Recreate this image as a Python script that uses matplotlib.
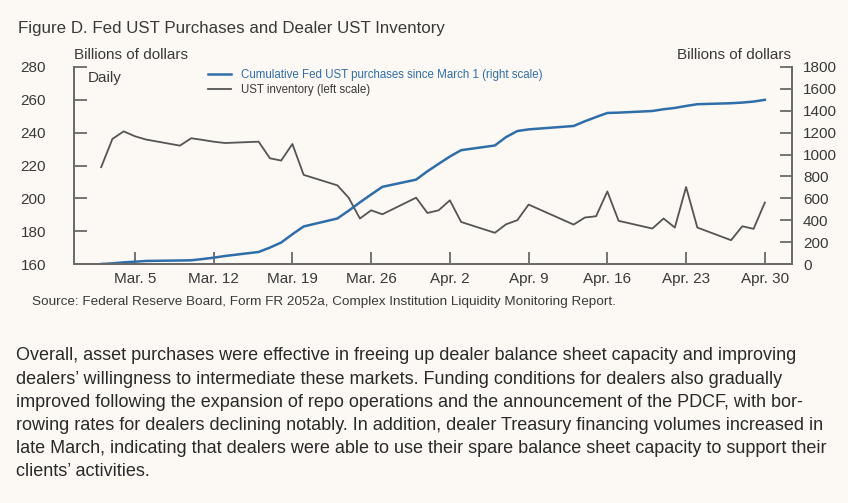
import pandas as pd
import matplotlib.pyplot as plt

plt.rcParams['font.family'] = ['Liberation Sans', 'DejaVu Sans']

# business days, Mar 2 - Apr 30 2020 (Good Friday left out)
dates = ["2020-03-02", "2020-03-03", "2020-03-04", "2020-03-05", "2020-03-06",
         "2020-03-09", "2020-03-10", "2020-03-11", "2020-03-12", "2020-03-13",
         "2020-03-16", "2020-03-17", "2020-03-18", "2020-03-19", "2020-03-20",
         "2020-03-23", "2020-03-24", "2020-03-25", "2020-03-26", "2020-03-27",
         "2020-03-30", "2020-03-31", "2020-04-01", "2020-04-02", "2020-04-03",
         "2020-04-06", "2020-04-07", "2020-04-08", "2020-04-09",
         "2020-04-13", "2020-04-14", "2020-04-15", "2020-04-16", "2020-04-17",
         "2020-04-20", "2020-04-21", "2020-04-22", "2020-04-23", "2020-04-24",
         "2020-04-27", "2020-04-28", "2020-04-29", "2020-04-30"]

# UST inventory, left scale
inventory = [219.0, 236.2, 240.8, 237.8, 235.8,
             232.1, 236.6, 235.6, 234.5, 233.7,
             234.5, 224.4, 223.0, 233.1, 214.3,
             207.9, 200.4, 187.7, 192.7, 190.3,
             200.4, 191.1, 192.7, 198.8, 185.6,
             179.0, 184.2, 186.7, 196.2,
             184.0, 188.3, 189.1, 204.2, 186.3,
             181.6, 187.7, 182.2, 206.9, 182.2,
             174.5, 183.0, 181.4, 197.4]

# cumulative Fed UST purchases since March 1, right scale
purchases = [0, 6, 15, 21, 28,
             32, 34, 45, 58, 73,
             110, 150, 196, 272, 343,
             416, 487, 563, 635, 705,
             771, 847, 915, 982, 1040,
             1083, 1160, 1215, 1230,
             1261, 1304, 1343, 1380, 1383,
             1398, 1414, 1426, 1444, 1460,
             1469, 1475, 1484, 1500]

tick_dates = ["2020-03-05", "2020-03-12", "2020-03-19", "2020-03-26", "2020-04-02",
              "2020-04-09", "2020-04-16", "2020-04-23", "2020-04-30"]
tick_labels = ["Mar. 5", "Mar. 12", "Mar. 19", "Mar. 26", "Apr. 2",
               "Apr. 9", "Apr. 16", "Apr. 23", "Apr. 30"]

df = pd.DataFrame({"date": pd.to_datetime(dates),
                   "inventory": inventory,
                   "purchases": purchases})

bg = '#fcf8f4'
blue = '#2f6ea8'
grey = '#555555'
axc = '#6a6a6a'
txt = '#3a3a3a'

fig = plt.figure(figsize=(8.48, 5.03), dpi=100, facecolor=bg)
ax = fig.add_axes([74/848, 1-264/503, (792-74)/848, (264-67)/503])
ax.set_facecolor(bg)
ax2 = ax.twinx()

l1, = ax2.plot(df["date"], df["purchases"], color=blue, lw=1.8)
l2, = ax.plot(df["date"], df["inventory"], color=grey, lw=1.3)

ax.set_ylim(160, 280)
ax.set_yticks(range(160, 281, 20))
ax2.set_ylim(0, 1800)
ax2.set_yticks(range(0, 1801, 200))
ax.set_xlim(pd.Timestamp("2020-02-28 14:00"), pd.Timestamp("2020-05-02 10:00"))
ax.set_xticks(pd.to_datetime(tick_dates))
ax.set_xticklabels(tick_labels)

for a in (ax, ax2):
    for s in a.spines.values():
        s.set_color(axc)
        s.set_linewidth(1.3)
    a.spines['top'].set_visible(False)
ax.tick_params(axis='y', direction='in', length=9.5, width=1.3, color=axc,
               labelsize=11, labelcolor=txt, pad=20)
ax.tick_params(axis='x', direction='in', length=9, width=1.3, color=axc,
               labelsize=11, labelcolor=txt, pad=6)
ax2.tick_params(axis='y', direction='in', length=9, width=1.3, color=axc,
                labelsize=11, labelcolor=txt, pad=8)

fig.text(18/848, 1-28/503, "Figure D. Fed UST Purchases and Dealer UST Inventory",
         fontsize=12.2, color=txt, va='center', ha='left')
fig.text(74/848, 1-55/503, "Billions of dollars", fontsize=11, color=txt, va='center', ha='left')
fig.text(791/848, 1-55/503, "Billions of dollars", fontsize=11, color=txt, va='center', ha='right')
fig.text(88/848, 1-78/503, "Daily", fontsize=11, color=txt, va='center', ha='left')

fig.legend([l1, l2], ["Cumulative Fed UST purchases since March 1 (right scale)",
                      "UST inventory (left scale)"],
           loc='upper left', bbox_to_anchor=(208/848, 1-69/503), frameon=False,
           fontsize=8.3, handlelength=2.0, handletextpad=0.9, labelspacing=0.3,
           labelcolor=[blue, txt], borderaxespad=0, borderpad=0)

fig.text(32/848, 1-302/503,
         "Source: Federal Reserve Board, Form FR 2052a, Complex Institution Liquidity Monitoring Report.",
         fontsize=9.7, color=txt, va='center', ha='left')

para = ["Overall, asset purchases were effective in freeing up dealer balance sheet capacity and improving",
        "dealers\u2019 willingness to intermediate these markets. Funding conditions for dealers also gradually",
        "improved following the expansion of repo operations and the announcement of the PDCF, with bor-",
        "rowing rates for dealers declining notably. In addition, dealer Treasury financing volumes increased in",
        "late March, indicating that dealers were able to use their spare balance sheet capacity to support their",
        "clients\u2019 activities."]
for i, line in enumerate(para):
    fig.text(16/848, 1-(356+23.2*i)/503, line, fontsize=13, color='#2a2a2a',
             va='center', ha='left')

fig.savefig("out.png", dpi=100, facecolor=bg)
